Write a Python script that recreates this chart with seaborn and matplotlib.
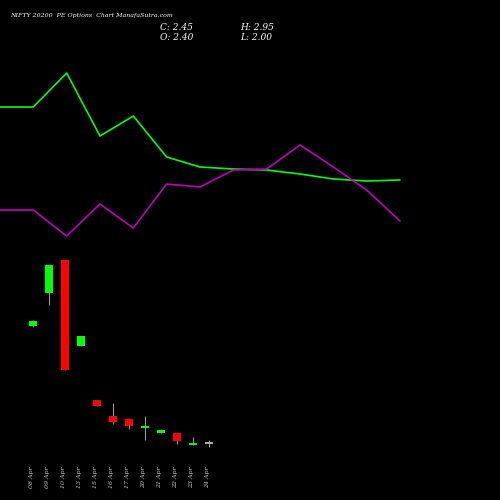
import matplotlib
matplotlib.use("Agg")
import matplotlib.pyplot as plt
import seaborn as sns
import pandas as pd

dates = ["08 Apr","09 Apr","10 Apr","13 Apr","15 Apr","16 Apr","17 Apr","20 Apr","21 Apr","22 Apr","23 Apr","24 Apr"]
opens = [174,207,240,154,100,84,81,72,67,67,55,57]
closes = [179,235,130,164,94,78,74,74,70,59,57,57]
highs = [180,235,240,164,100,97,81,84,71,67,63,60]
lows = [173,195,130,154,94,76,71,60,67,56,55,53]
green_line = [393,393,427,364,384,343,333,331,330,326,321,319,320]
purple_line = [290,290,264,296,272,316,313,330,331,355,333,310,279]

sns.set_style("dark")
fig = plt.figure(figsize=(5,5), dpi=100, facecolor="black")
ax1 = fig.add_axes([0,0,1,1]); ax1.set_facecolor("black")
ln = pd.DataFrame({"i": range(len(green_line)), "g": green_line, "p": purple_line})
sns.lineplot(data=ln, x="i", y="g", color="#00ff00", lw=1.2, ax=ax1)
sns.lineplot(data=ln, x="i", y="p", color="#c000c0", lw=1.2, ax=ax1)
ax1.set_xlim(0, 15); ax1.set_ylim(0, 500); ax1.axis("off")

ax2 = fig.add_axes([0,0,1,1]); ax2.patch.set_alpha(0)
for i,(o,c,h,l) in enumerate(zip(opens,closes,highs,lows)):
    col = "#00ff00" if c>o else ("#ff0000" if c<o else "#aaaaaa")
    ax2.vlines(i, l, h, color="#999999", lw=0.8, zorder=1)
    if c == o:
        ax2.hlines(o, i-0.28, i+0.28, color=col, lw=1.5, zorder=2)
    else:
        ax2.bar(i, abs(c-o), bottom=min(o,c), width=0.56, color=col, zorder=2, edgecolor="none")
    ax2.text(i-0.1, 33, dates[i], rotation=90, ha="center", va="top", fontsize=4.5,
             color="#cccccc", family="DejaVu Serif", style="italic")
ax2.set_xlim(-33/16, 467/16); ax2.set_ylim(0, 500); ax2.axis("off")

fig.text(0.02, 0.97, "NIFTY 20200  PE Options  Chart ManafaSutra.com", fontsize=4.5, color="white", family="DejaVu Serif", style="italic", va="center")
fig.text(0.32, 0.944, "C: 2.45", fontsize=6.5, color="white", family="DejaVu Serif", style="italic", va="center")
fig.text(0.32, 0.933-0.00, "", fontsize=1)
fig.text(0.32, 0.934, "O: 2.40", fontsize=6.5, color="white", family="DejaVu Serif", style="italic", va="top")
fig.text(0.48, 0.944, "H: 2.95", fontsize=6.5, color="white", family="DejaVu Serif", style="italic", va="center")
fig.text(0.48, 0.934, "L: 2.00", fontsize=6.5, color="white", family="DejaVu Serif", style="italic", va="top")
fig.savefig("out.png", dpi=100, facecolor="black")
